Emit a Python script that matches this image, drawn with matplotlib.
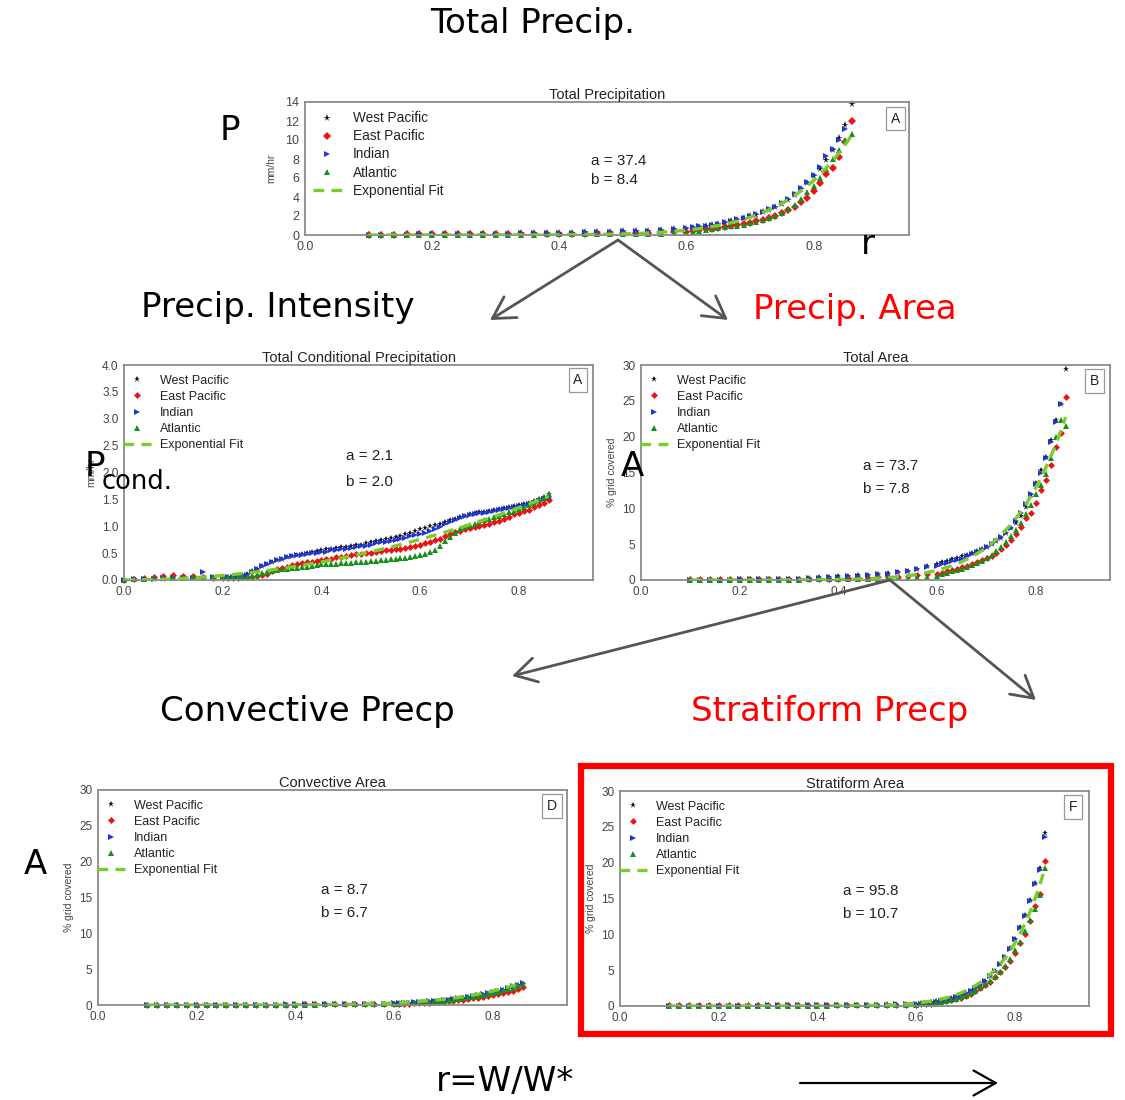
import numpy as np
import matplotlib
matplotlib.use('Agg')
import matplotlib.pyplot as plt
from matplotlib.patches import FancyArrowPatch, Rectangle

plt.rcParams['font.family'] = ['Liberation Sans', 'DejaVu Sans']

# ---------------- data ----------------
SERIES = ['West Pacific', 'East Pacific', 'Indian', 'Atlantic']
nan = float('nan')

# x grid (r = W/W*) for total precip / area panels
X_R = [0.10, 0.12, 0.14, 0.16, 0.18, 0.20, 0.22, 0.24, 0.26, 0.28, 0.30, 0.32, 0.34,
       0.36, 0.38, 0.40, 0.42, 0.44, 0.46, 0.48, 0.50, 0.52, 0.54, 0.56, 0.58,
       0.60, 0.61, 0.62, 0.63, 0.64, 0.65, 0.66, 0.67, 0.68, 0.69, 0.70, 0.71, 0.72,
       0.73, 0.74, 0.75, 0.76, 0.77, 0.78, 0.79, 0.80, 0.81, 0.82, 0.83, 0.84, 0.85, 0.86]

# Total Precipitation (mm/hr)
P_WP = [0.02, 0.03, 0.04, 0.05, 0.06, 0.07, 0.08, 0.09, 0.10, 0.12, 0.13, 0.15, 0.17, 0.19, 0.21, 0.23, 0.25, 0.28, 0.31, 0.34, 0.38, 0.42, 0.47, 0.52, 0.58,
        0.65, 0.75, 0.85, 0.95, 1.05, 1.15, 1.30, 1.45, 1.60, 1.75, 1.95, 2.15, 2.40, 2.65, 2.95, 3.30, 3.70, 4.20, 4.80, 5.50, 6.20, 7.00, 7.90, 9.00, 10.2, 11.6, 13.8]
P_EP = [0.05, 0.05, 0.05, 0.06, 0.06, 0.06, 0.07, 0.07, 0.08, 0.08, 0.09, 0.09, 0.10, 0.11, 0.12, 0.13, 0.14, 0.15, 0.16, 0.18, 0.20, 0.22, 0.25, 0.28, 0.31,
        0.35, 0.42, 0.50, 0.58, 0.66, 0.75, 0.85, 0.95, 1.05, 1.15, 1.30, 1.45, 1.60, 1.80, 2.00, 2.30, 2.60, 3.00, 3.50, 3.90, 4.60, 5.50, 6.40, 7.10, 8.20, 9.80, 12.0]
P_IN = [0.02, 0.03, 0.04, 0.05, 0.06, 0.07, 0.08, 0.09, 0.10, 0.11, 0.12, 0.14, 0.16, 0.18, 0.20, 0.22, 0.24, 0.27, 0.30, 0.33, 0.37, 0.41, 0.46, 0.52, 0.60,
        0.70, 0.80, 0.90, 1.00, 1.10, 1.20, 1.35, 1.50, 1.65, 1.80, 2.00, 2.20, 2.45, 2.70, 3.00, 3.35, 3.80, 4.30, 5.00, 5.60, 6.30, 7.20, 8.30, 9.10, 10.0, 11.2, nan]
P_AT = [0.00, 0.00, 0.01, 0.01, 0.01, 0.02, 0.02, 0.02, 0.03, 0.03, 0.04, 0.04, 0.05, 0.05, 0.06, 0.07, 0.08, 0.08, 0.09, 0.10, 0.11, 0.12, 0.13, 0.15, 0.17,
        0.20, 0.30, 0.40, 0.50, 0.60, 0.70, 0.80, 0.90, 1.00, 1.10, 1.25, 1.40, 1.55, 1.75, 2.00, 2.30, 2.70, 3.20, 3.80, 4.50, 5.20, 6.00, 7.00, 8.00, 9.00, 10.0, 10.6]

# Total Area (% grid covered)
B_WP = [0.05, 0.05, 0.05, 0.06, 0.06, 0.07, 0.08, 0.09, 0.10, 0.12, 0.15, 0.20, 0.28, 0.35, 0.42, 0.50, 0.58, 0.66, 0.75, 0.85, 0.95, 1.10, 1.30, 1.60, 1.90,
        2.3, 2.5, 2.7, 2.9, 3.1, 3.3, 3.5, 3.7, 4.0, 4.3, 4.6, 5.0, 5.4, 5.9, 6.5, 7.2, 8.0, 9.0, 10.2, 11.8, 13.5, 15.3, 17.2, 19.5, 22.3, 24.6, 29.5]
B_EP = [0.10, 0.10, 0.10, 0.10, 0.10, 0.10, 0.10, 0.10, 0.10, 0.10, 0.10, 0.12, 0.14, 0.16, 0.18, 0.20, 0.23, 0.26, 0.30, 0.35, 0.40, 0.48, 0.56, 0.66, 0.78,
        0.9, 1.0, 1.2, 1.4, 1.6, 1.8, 2.0, 2.2, 2.5, 2.8, 3.1, 3.4, 3.8, 4.3, 4.9, 5.6, 6.4, 7.4, 8.6, 9.4, 10.7, 12.6, 14.0, 16.0, 18.5, 20.5, 25.6]
B_IN = [0.05, 0.05, 0.05, 0.06, 0.06, 0.07, 0.08, 0.09, 0.10, 0.12, 0.15, 0.20, 0.25, 0.32, 0.40, 0.48, 0.55, 0.62, 0.70, 0.80, 0.90, 1.05, 1.25, 1.50, 1.80,
        2.0, 2.2, 2.4, 2.6, 2.8, 3.0, 3.3, 3.6, 3.9, 4.2, 4.6, 5.0, 5.5, 6.0, 6.6, 7.3, 8.2, 9.3, 10.6, 12.0, 13.4, 15.0, 17.0, 19.3, 22.0, 24.5, nan]
B_AT = [0.05, 0.05, 0.05, 0.05, 0.05, 0.05, 0.05, 0.05, 0.05, 0.05, 0.05, 0.06, 0.07, 0.08, 0.09, 0.10, 0.12, 0.14, 0.16, 0.19, 0.22, 0.26, 0.31, 0.38, 0.48,
        0.6, 0.8, 1.0, 1.2, 1.4, 1.6, 1.8, 2.1, 2.4, 2.7, 3.1, 3.5, 4.0, 4.6, 5.3, 6.1, 7.0, 8.0, 9.2, 10.5, 12.0, 13.2, 14.8, 17.0, 20.0, 22.3, 21.5]

# Convective Area (% grid covered)
D_WP = [0.02, 0.02, 0.02, 0.02, 0.03, 0.03, 0.03, 0.03, 0.04, 0.04, 0.04, 0.05, 0.05, 0.06, 0.06, 0.07, 0.08, 0.08, 0.09, 0.10, 0.11, 0.12, 0.13, 0.15, 0.17,
        0.20, 0.23, 0.26, 0.30, 0.34, 0.38, 0.43, 0.48, 0.53, 0.59, 0.66, 0.73, 0.81, 0.90, 1.00, 1.10, 1.20, 1.32, 1.45, 1.60, 1.75, 1.90, 2.10, 2.30, 2.50, 2.75, 3.00]
D_EP = [0.05, 0.05, 0.05, 0.05, 0.05, 0.05, 0.05, 0.05, 0.05, 0.05, 0.05, 0.05, 0.05, 0.06, 0.06, 0.06, 0.07, 0.07, 0.07, 0.08, 0.08, 0.09, 0.09, 0.10, 0.11,
        0.12, 0.14, 0.16, 0.19, 0.22, 0.25, 0.29, 0.33, 0.37, 0.42, 0.47, 0.53, 0.59, 0.66, 0.74, 0.82, 0.91, 1.00, 1.10, 1.22, 1.35, 1.50, 1.65, 1.82, 2.00, 2.25, 2.50]
D_IN = [0.02, 0.02, 0.02, 0.03, 0.03, 0.03, 0.03, 0.04, 0.04, 0.04, 0.05, 0.05, 0.06, 0.06, 0.07, 0.07, 0.08, 0.09, 0.10, 0.11, 0.12, 0.13, 0.15, 0.17, 0.19,
        0.22, 0.25, 0.28, 0.32, 0.36, 0.40, 0.45, 0.50, 0.56, 0.62, 0.69, 0.76, 0.84, 0.93, 1.03, 1.13, 1.24, 1.36, 1.50, 1.65, 1.80, 1.96, 2.15, 2.35, 2.60, 2.85, 3.10]
D_AT = [0.01, 0.01, 0.01, 0.01, 0.02, 0.02, 0.02, 0.02, 0.03, 0.03, 0.03, 0.04, 0.04, 0.04, 0.05, 0.05, 0.06, 0.06, 0.07, 0.08, 0.09, 0.10, 0.11, 0.12, 0.13,
        0.15, 0.18, 0.21, 0.25, 0.29, 0.33, 0.38, 0.43, 0.48, 0.54, 0.61, 0.68, 0.76, 0.85, 0.95, 1.05, 1.16, 1.28, 1.40, 1.54, 1.70, 1.86, 2.03, 2.22, 2.43, 2.65, 2.90]

# Stratiform Area (% grid covered)
F_WP = [0.05, 0.05, 0.05, 0.05, 0.05, 0.05, 0.06, 0.06, 0.06, 0.07, 0.07, 0.08, 0.08, 0.09, 0.10, 0.11, 0.12, 0.13, 0.14, 0.15, 0.17, 0.19, 0.21, 0.24, 0.28,
        0.32, 0.38, 0.46, 0.55, 0.66, 0.80, 0.95, 1.12, 1.32, 1.55, 1.82, 2.15, 2.55, 3.00, 3.55, 4.20, 4.95, 5.85, 6.90, 8.10, 9.40, 11.0, 12.7, 14.8, 17.1, 19.3, 24.2]
F_EP = [0.10, 0.10, 0.10, 0.10, 0.10, 0.10, 0.10, 0.10, 0.10, 0.10, 0.10, 0.10, 0.10, 0.10, 0.11, 0.11, 0.11, 0.12, 0.12, 0.12, 0.13, 0.13, 0.14, 0.15, 0.15,
        0.16, 0.21, 0.27, 0.34, 0.42, 0.52, 0.64, 0.78, 0.95, 1.15, 1.40, 1.70, 2.05, 2.45, 2.90, 3.40, 4.00, 4.70, 5.50, 6.25, 7.40, 8.80, 10.0, 11.9, 13.9, 15.6, 20.3]
F_IN = [0.05, 0.05, 0.05, 0.05, 0.05, 0.05, 0.05, 0.06, 0.06, 0.06, 0.07, 0.07, 0.08, 0.08, 0.09, 0.10, 0.11, 0.12, 0.13, 0.14, 0.15, 0.17, 0.19, 0.21, 0.23,
        0.25, 0.30, 0.37, 0.45, 0.55, 0.67, 0.82, 1.00, 1.20, 1.45, 1.75, 2.10, 2.50, 2.95, 3.50, 4.15, 4.90, 5.80, 6.80, 8.00, 9.30, 10.9, 12.6, 14.7, 17.0, 19.0, 23.6]
F_AT = [0.03, 0.03, 0.03, 0.03, 0.03, 0.03, 0.03, 0.03, 0.04, 0.04, 0.04, 0.04, 0.05, 0.05, 0.05, 0.06, 0.06, 0.07, 0.07, 0.08, 0.09, 0.10, 0.11, 0.13, 0.15,
        0.18, 0.23, 0.29, 0.36, 0.45, 0.55, 0.67, 0.82, 1.00, 1.20, 1.45, 1.75, 2.10, 2.50, 2.95, 3.50, 4.10, 4.80, 5.60, 6.60, 7.80, 9.00, 10.5, 12.0, 13.5, 15.5, 19.2]

# x grid for conditional precipitation panel
X_C = [0.00, 0.02, 0.04, 0.06, 0.08, 0.10, 0.12, 0.14, 0.16, 0.18,
       0.20, 0.21, 0.22, 0.23, 0.24, 0.25, 0.26, 0.27, 0.28, 0.29,
       0.30, 0.31, 0.32, 0.33, 0.34, 0.35, 0.36, 0.37, 0.38, 0.39,
       0.40, 0.41, 0.42, 0.43, 0.44, 0.45, 0.46, 0.47, 0.48, 0.49,
       0.50, 0.51, 0.52, 0.53, 0.54, 0.55, 0.56, 0.57, 0.58, 0.59,
       0.60, 0.61, 0.62, 0.63, 0.64, 0.65, 0.66, 0.67, 0.68, 0.69,
       0.70, 0.71, 0.72, 0.73, 0.74, 0.75, 0.76, 0.77, 0.78, 0.79,
       0.80, 0.81, 0.82, 0.83, 0.84, 0.85, 0.86]

# Total Conditional Precipitation (mm/hr)
C_WP = [0.00, 0.01, 0.01, 0.02, 0.02, 0.03, 0.03, 0.03, 0.04, 0.04,
        0.04, 0.05, 0.06, 0.07, 0.09, 0.12, 0.16, 0.21, 0.26, 0.30,
        0.34, 0.37, 0.40, 0.43, 0.45, 0.47, 0.49, 0.51, 0.52, 0.54,
        0.55, 0.57, 0.58, 0.60, 0.61, 0.62, 0.64, 0.65, 0.66, 0.68,
        0.70, 0.72, 0.74, 0.76, 0.78, 0.80, 0.82, 0.85, 0.88, 0.91,
        0.94, 0.97, 1.00, 1.02, 1.05, 1.08, 1.11, 1.14, 1.17, 1.20,
        1.22, 1.24, 1.26, 1.27, 1.29, 1.30, 1.32, 1.34, 1.36, 1.38,
        1.40, 1.42, 1.44, 1.47, 1.50, 1.55, 1.60]
C_EP = [0.00, 0.02, 0.03, 0.05, 0.08, 0.10, 0.07, 0.08, 0.06, 0.04,
        0.04, 0.04, 0.04, 0.04, 0.05, 0.05, 0.06, 0.07, 0.09, 0.12,
        0.16, 0.20, 0.23, 0.25, 0.27, 0.29, 0.31, 0.33, 0.34, 0.35,
        0.37, 0.39, 0.40, 0.42, 0.43, 0.45, 0.46, 0.48, 0.49, 0.50,
        0.51, 0.52, 0.54, 0.55, 0.56, 0.57, 0.58, 0.60, 0.62, 0.64,
        0.66, 0.68, 0.71, 0.74, 0.77, 0.81, 0.85, 0.89, 0.92, 0.94,
        0.96, 0.98, 1.00, 1.02, 1.04, 1.07, 1.10, 1.14, 1.18, 1.22,
        1.25, 1.28, 1.31, 1.35, 1.39, 1.44, 1.48]
C_IN = [0.00, 0.01, 0.02, 0.02, 0.03, 0.03, 0.04, 0.04, 0.15, 0.05,
        0.04, 0.05, 0.05, 0.06, 0.08, 0.10, 0.15, 0.21, 0.26, 0.30,
        0.34, 0.37, 0.40, 0.42, 0.44, 0.46, 0.47, 0.49, 0.50, 0.51,
        0.52, 0.53, 0.55, 0.56, 0.57, 0.58, 0.60, 0.62, 0.63, 0.64,
        0.66, 0.68, 0.70, 0.71, 0.73, 0.75, 0.77, 0.79, 0.81, 0.83,
        0.85, 0.88, 0.91, 0.95, 0.99, 1.04, 1.08, 1.12, 1.16, 1.19,
        1.21, 1.23, 1.24, 1.25, 1.27, 1.28, 1.30, 1.32, 1.34, 1.36,
        1.38, 1.40, 1.42, 1.44, 1.47, 1.50, 1.52]
C_AT = [0.00, 0.01, 0.02, 0.03, 0.03, 0.04, 0.04, 0.05, 0.05, 0.05,
        0.05, 0.05, 0.05, 0.05, 0.06, 0.06, 0.08, 0.10, 0.13, 0.15,
        0.17, 0.19, 0.20, 0.21, 0.22, 0.23, 0.24, 0.25, 0.26, 0.28,
        0.29, 0.29, 0.30, 0.30, 0.31, 0.32, 0.32, 0.33, 0.34, 0.34,
        0.35, 0.36, 0.37, 0.38, 0.39, 0.40, 0.41, 0.41, 0.42, 0.44,
        0.46, 0.49, 0.52, 0.56, 0.63, 0.72, 0.80, 0.88, 0.95, 0.99,
        1.02, 1.05, 1.08, 1.11, 1.14, 1.17, 1.20, 1.23, 1.26, 1.29,
        1.32, 1.36, 1.40, 1.44, 1.48, 1.53, 1.60]

# fit parameters shown on each panel (fit: a * r**b)
FIT_A = [37.4, 2.1, 73.7, 8.7, 95.8]
FIT_B = [8.4, 2.0, 7.8, 6.7, 10.7]
PANEL_TITLES = ['Total Precipitation', 'Total Conditional Precipitation', 'Total Area',
                'Convective Area', 'Stratiform Area']
PANEL_LETTERS = ['A', 'A', 'B', 'D', 'F']
X_TICKS = [0.0, 0.2, 0.4, 0.6, 0.8]

# ---------------- figure ----------------
W, H = 1125, 1100
fig = plt.figure(figsize=(W / 100, H / 100), dpi=100)


def fx(x):
    return x / W


def fy(y):
    return 1 - y / H


def add_ax(left, top, width, height):
    return fig.add_axes([left / W, 1 - (top + height) / H, width / W, height / H])


COLORS = ['#111111', '#ee1111', '#1f35d8', '#17901a']
MARKERS = ['*', 'D', '>', '^']
FIT_COLOR = '#7acc2e'


def panel(ax, x, ys, idx, ylim, yticks, yfmt, ylabel, ylabel_x, ms, fs_leg,
          leg_anchor, leg_spacing, hlen, hpad, ab_pos, letter_pos, fs_tick, x0fit):
    sizes = [ms * 1.3, ms * 0.95, ms * 1.05, ms * 1.05]
    for s, y, c, m, sz in zip(SERIES, ys, COLORS, MARKERS, sizes):
        ax.plot(x, y, linestyle='none', marker=m, color=c, ms=sz, mew=0, label=s,
                clip_on=False)
    a, b = FIT_A[idx], FIT_B[idx]
    xf = np.linspace(x0fit, 0.86, 200)
    ax.plot(xf, a * xf ** b, linestyle=(0, (3.2, 2.2)), color=FIT_COLOR, lw=2.4,
            label='Exponential Fit', zorder=5)
    ax.set_xlim(0, 0.95)
    ax.set_ylim(*ylim)
    ax.set_xticks(X_TICKS)
    ax.set_xticklabels([f'{v:.1f}' for v in X_TICKS])
    ax.set_yticks(yticks)
    ax.set_yticklabels([yfmt.format(v) for v in yticks])
    ax.tick_params(length=0, labelsize=fs_tick, labelcolor='#444444', pad=4)
    for sp in ax.spines.values():
        sp.set_color('#8a8a8a')
        sp.set_linewidth(1.3)
    ax.set_title(PANEL_TITLES[idx], fontsize=10.5, pad=1.5, color='#222222')
    ax.set_ylabel(ylabel, fontsize=7.5, color='#444444')
    ax.yaxis.set_label_coords(ylabel_x, 0.5)
    leg = ax.legend(loc='upper left', bbox_to_anchor=leg_anchor, frameon=False,
                    fontsize=fs_leg, handlelength=hlen, handletextpad=hpad,
                    labelspacing=leg_spacing, borderaxespad=0, borderpad=0,
                    numpoints=1)
    for t in leg.get_texts():
        t.set_color('#222222')
    ax.text(ab_pos[0], ab_pos[1], f'a = {a}', transform=ax.transAxes, fontsize=11,
            color='#222222', ha='left', va='center')
    ax.text(ab_pos[0], ab_pos[1] - ab_pos[2], f'b = {b}', transform=ax.transAxes,
            fontsize=11, color='#222222', ha='left', va='center')
    ax.text(letter_pos[0], letter_pos[1], PANEL_LETTERS[idx], transform=ax.transAxes,
            fontsize=10, ha='center', va='center', color='#222222',
            bbox=dict(boxstyle='square,pad=0.35', fc='white', ec='#999999', lw=0.9))


# Panel A: total precipitation
axA = add_ax(305, 102, 604, 133)
panel(axA, X_R, [P_WP, P_EP, P_IN, P_AT], 0, (0, 14), list(range(0, 15, 2)), '{:d}',
      'mm/hr', -0.048, 4.3, 9.8, (0.013, 0.93), 0.30, 2.15, 0.8,
      (0.473, 0.56, 0.145), (0.978, 0.875), 9, 0.10)

# Panel conditional precipitation
axC = add_ax(124, 365, 469, 215)
panel(axC, X_R if False else X_C, [C_WP, C_EP, C_IN, C_AT], 1, (0, 4),
      [0, 0.5, 1, 1.5, 2, 2.5, 3, 3.5, 4],
      '{:.1f}', 'mm/hr', -0.06, 3.7, 9, (-0.003, 0.955), 0.33, 2.25, 0.75,
      (0.473, 0.577, 0.121), (0.968, 0.93), 8.5, 0.0)

# Panel total area
axB = add_ax(641, 365, 469, 215)
panel(axB, X_R, [B_WP, B_EP, B_IN, B_AT], 2, (0, 30), list(range(0, 31, 5)), '{:d}',
      '% grid covered', -0.052, 3.7, 9, (-0.003, 0.955), 0.33, 2.25, 0.75,
      (0.473, 0.53, 0.107), (0.966, 0.925), 8.5, 0.10)

# Panel convective area
axD = add_ax(98, 790, 469, 215)
panel(axD, X_R, [D_WP, D_EP, D_IN, D_AT], 3, (0, 30), list(range(0, 31, 5)), '{:d}',
      '% grid covered', -0.052, 3.7, 9, (-0.003, 0.955), 0.33, 2.25, 0.75,
      (0.475, 0.535, 0.107), (0.968, 0.926), 8.5, 0.10)

# Panel stratiform area
axF = add_ax(620, 791, 469, 215)
panel(axF, X_R, [F_WP, F_EP, F_IN, F_AT], 4, (0, 30), list(range(0, 31, 5)), '{:d}',
      '% grid covered', -0.052, 3.7, 9, (-0.003, 0.955), 0.33, 2.25, 0.75,
      (0.475, 0.535, 0.107), (0.966, 0.925), 8.5, 0.10)

# ---------------- annotations ----------------
BIG = 24.5
BIGFONT = ['DejaVu Sans']


def big(x, y, s, color='black', ha='center', va='center', size=BIG):
    fig.text(fx(x), fy(y), s, ha=ha, va=va, fontsize=size, color=color, family=BIGFONT)


big(533, 24, 'Total Precip.')
big(230, 130, 'P')
big(868, 244, 'r')
big(278, 307, 'Precip. Intensity')
big(855, 309, 'Precip. Area', color='red')
big(95, 466, 'P')
big(102, 489, 'cond.', ha='left', va='baseline', size=18.5)
big(632, 467, 'A')
big(307, 712, 'Convective Precp')
big(830, 712, 'Stratiform Precp', color='red')
big(35, 865, 'A')
big(505, 1082, 'r=W/W*')

ARROW_GRAY = '#555555'
for (x0, y0), (x1, y1) in [((618, 240), (490, 320)), ((618, 240), (728, 320)),
                           ((890, 580), (512, 676)), ((890, 580), (1036, 700))]:
    fig.add_artist(FancyArrowPatch((fx(x0), fy(y0)), (fx(x1), fy(y1)),
                                   transform=fig.transFigure,
                                   arrowstyle='->,head_length=0.7,head_width=0.4',
                                   mutation_scale=22, lw=2.0, color=ARROW_GRAY,
                                   shrinkA=0, shrinkB=0))

fig.add_artist(FancyArrowPatch((fx(800), fy(1083)), (fx(998), fy(1083)),
                               transform=fig.transFigure,
                               arrowstyle='->,head_length=0.8,head_width=0.45',
                               mutation_scale=20, lw=1.6, color='black',
                               shrinkA=0, shrinkB=0))

fig.add_artist(Rectangle((fx(581), fy(1034)), (1111 - 581) / W, (1034 - 766) / H,
                         transform=fig.transFigure, fill=False, ec='red', lw=4.5))

fig.savefig('out.png', dpi=100, facecolor='white')
